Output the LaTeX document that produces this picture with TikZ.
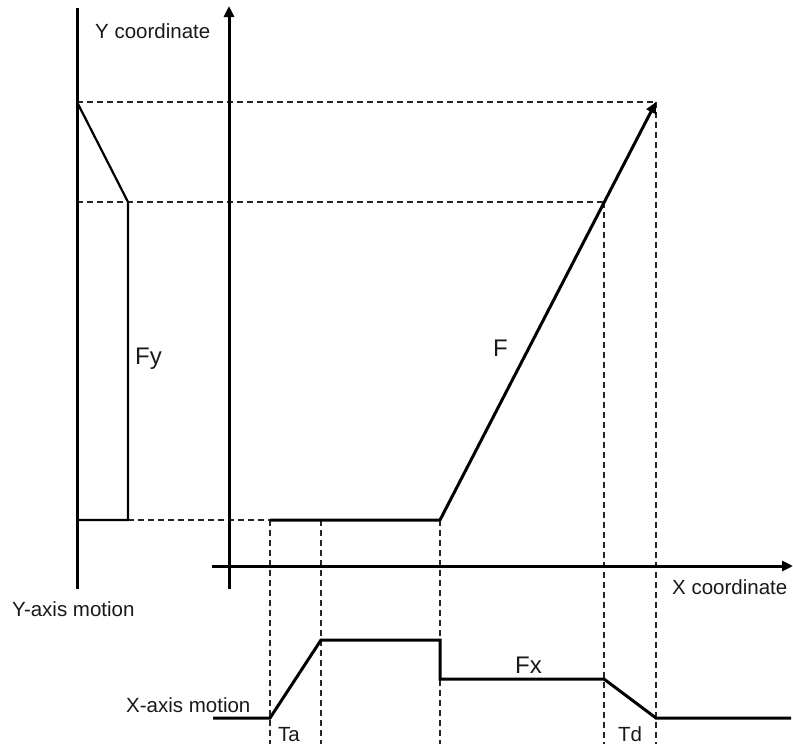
\documentclass[tikz,border=0pt]{standalone}
\usepackage{fontspec}
\setmainfont{Liberation Sans}
\usetikzlibrary{arrows.meta}
\begin{document}
\begin{tikzpicture}[x=1pt,y=-1pt,
  axisline/.style={line width=3pt,color=black},
  profline/.style={line width=2.2pt,color=black,line join=miter},
  mainline/.style={line width=3pt,color=black,line join=miter},
  guide/.style={line width=1.9pt,color=black!85,dash pattern=on 6pt off 4pt},
  axlabel/.style={font=\fontsize{20.5}{24}\selectfont,anchor=base west,inner sep=0pt,text=black!90},
  flabel/.style={font=\fontsize{24}{28}\selectfont,anchor=base west,inner sep=0pt,text=black!90},
  tip/.style={-{Triangle[length=11pt,width=10pt]}}]
\useasboundingbox (0,0) rectangle (793,744);
% key coordinates
\coordinate (ymTop) at (77,8);
\coordinate (ymBot) at (77,589);
\coordinate (yaBot) at (229,589);
\coordinate (yaTop) at (229,6);
\coordinate (xaL) at (212,566);
\coordinate (xaR) at (793,566);
\coordinate (p1) at (77,102);
\coordinate (p2) at (128,202);
\coordinate (p3) at (128,520);
\coordinate (p4) at (77,520);
\coordinate (f1) at (270,520);
\coordinate (f2) at (440,520);
\coordinate (f3) at (656,102);
\coordinate (f4) at (604,202);
\coordinate (h202) at (77,202);
\coordinate (b0) at (213,718);
\coordinate (b1) at (270,718);
\coordinate (b2) at (321,640);
\coordinate (b3) at (440,640);
\coordinate (b4) at (440,679);
\coordinate (b5) at (604,679);
\coordinate (b6) at (656,718);
\coordinate (b7) at (791,718);
\coordinate (g321) at (321,520);
\coordinate (e270) at (270,744);
\coordinate (e321) at (321,744);
\coordinate (e440) at (440,744);
\coordinate (e604) at (604,744);
\coordinate (e656) at (656,744);
% guides
\draw[guide] (p1) -- (f3);
\draw[guide] (h202) -- (f4);
\draw[guide] (p3) -- (f1);
\draw[guide] (f1) -- (e270);
\draw[guide] (g321) -- (e321);
\draw[guide] (f2) -- (e440);
\draw[guide] (f4) -- (e604);
\draw[guide] (f3) -- (e656);
% axes
\draw[axisline] (ymTop) -- (ymBot);
\draw[axisline,tip] (yaBot) -- (yaTop);
\draw[axisline,tip] (xaL) -- (xaR);
% Y-axis motion profile
\draw[profline] (p1) -- (p2) -- (p3) -- (p4);
% main path
\draw[mainline,tip] (f1) -- (f2) -- (f3);
% X-axis motion profile
\draw[mainline] (b0) -- (b1) -- (b2) -- (b3) -- (b4) -- (b5) -- (b6) -- (b7);
% labels
\node[axlabel] (ycoord) at (95,38) {Y coordinate};
\node[axlabel] (xcoord) at (672,594) {X coordinate};
\node[axlabel] (ymot) at (12,616) {Y-axis motion};
\node[axlabel] (xmot) at (126,712) {X-axis motion};
\node[flabel] (fy) at (135,364) {Fy};
\node[flabel] (F) at (493,356) {F};
\node[flabel] (fx) at (515,673) {Fx};
\node[axlabel] (ta) at (278,741) {Ta};
\node[axlabel] (td) at (618,741) {Td};
\end{tikzpicture}
\end{document}
